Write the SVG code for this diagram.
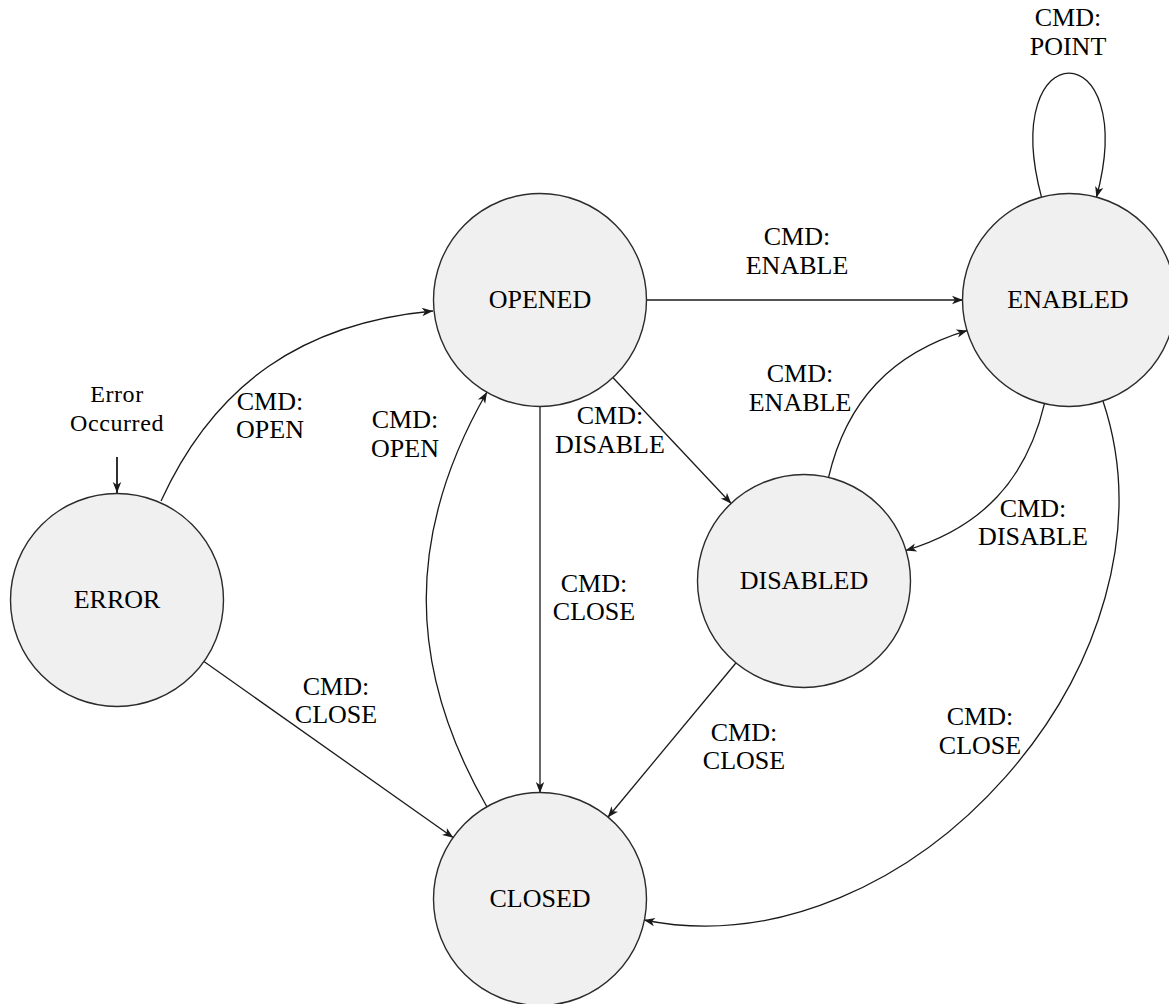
<svg xmlns="http://www.w3.org/2000/svg" width="1169" height="1004" viewBox="0 0 1169 1004">
  <style>
    .state { fill: #f0f0f0; stroke: #2b2b2b; stroke-width: 1.4; }
    .name, .lbl { font-family: "Liberation Serif", "DejaVu Serif", "Times New Roman", serif; font-size: 26px; fill: #000; text-anchor: middle; }
    .note { font-family: "Liberation Serif", "DejaVu Serif", "Times New Roman", serif; font-size: 24px; fill: #000; text-anchor: middle; letter-spacing: 0.6px; }
    .edge { fill: none; stroke: #1a1a1a; stroke-width: 1.3; marker-end: url(#arr); }
    .start { stroke-width: 1.8; }
  </style>
  <defs>
    <marker id="arr" viewBox="-12 -6 13 12" refX="0" refY="0" markerWidth="13" markerHeight="12" markerUnits="userSpaceOnUse" orient="auto">
      <path d="M0,0 L-11,-4.2 L-8,0 L-11,4.2 Z" fill="#1a1a1a"/>
    </marker>
  </defs>

  <rect width="1169" height="1004" fill="#ffffff"/>

  <!-- transitions -->
  <g id="connectors">
    <!-- initial arrow into ERROR -->
    <path class="edge start" d="M117,457 L117,493"/>
    <!-- ERROR -> OPENED -->
    <path class="edge" d="M161,501 C215,383 303.5,323 433,311"/>
    <!-- ERROR -> CLOSED -->
    <path class="edge" d="M203.6,661.2 L453.4,837.8"/>
    <!-- OPENED -> ENABLED -->
    <path class="edge" d="M646,300 L963,300"/>
    <!-- OPENED -> CLOSED -->
    <path class="edge" d="M540,406 L540,793"/>
    <!-- CLOSED -> OPENED -->
    <path class="edge" d="M487,807 C406,666 406,533 487,392"/>
    <!-- OPENED -> DISABLED -->
    <path class="edge" d="M612.6,377.3 L731.4,503.7"/>
    <!-- DISABLED -> ENABLED -->
    <path class="edge" d="M828.4,477.8 C846.6,400.6 891.5,353.2 967.5,330.4"/>
    <!-- ENABLED -> DISABLED -->
    <path class="edge" d="M1044.6,403.2 C1026.4,480.4 981.5,527.8 905.5,550.6"/>
    <!-- DISABLED -> CLOSED -->
    <path class="edge" d="M736.3,662.5 L607.7,817.5"/>
    <!-- ENABLED -> CLOSED -->
    <path class="edge" d="M1102.8,400.5 C1189.4,657.8 909.9,973.7 643.9,920"/>
    <!-- ENABLED self loop -->
    <path class="edge" d="M1041.6,197.6 C997,31.5 1141,31.5 1096.4,197.6"/>
  </g>

  <!-- transition labels -->
  <g id="labels">
    <text class="note" x="117" y="402">Error</text>
    <text class="note" x="117" y="431">Occurred</text>

    <text class="lbl" x="270" y="410">CMD:</text>
    <text class="lbl" x="270" y="438">OPEN</text>

    <text class="lbl" x="405" y="428">CMD:</text>
    <text class="lbl" x="405" y="457">OPEN</text>

    <text class="lbl" x="797" y="245">CMD:</text>
    <text class="lbl" x="797" y="274">ENABLE</text>

    <text class="lbl" x="610" y="424">CMD:</text>
    <text class="lbl" x="610" y="453">DISABLE</text>

    <text class="lbl" x="800" y="382">CMD:</text>
    <text class="lbl" x="800" y="411">ENABLE</text>

    <text class="lbl" x="1033" y="517">CMD:</text>
    <text class="lbl" x="1033" y="545">DISABLE</text>

    <text class="lbl" x="594" y="592">CMD:</text>
    <text class="lbl" x="594" y="620">CLOSE</text>

    <text class="lbl" x="336" y="695">CMD:</text>
    <text class="lbl" x="336" y="723">CLOSE</text>

    <text class="lbl" x="744" y="741">CMD:</text>
    <text class="lbl" x="744" y="769">CLOSE</text>

    <text class="lbl" x="980" y="725">CMD:</text>
    <text class="lbl" x="980" y="754">CLOSE</text>

    <text class="lbl" x="1068" y="26">CMD:</text>
    <text class="lbl" x="1068" y="55">POINT</text>
  </g>

  <!-- states -->
  <g id="node-opened">
    <circle class="state" cx="540" cy="300" r="106.5"/>
    <text class="name" x="540" y="308">OPENED</text>
  </g>
  <g id="node-enabled">
    <circle class="state" cx="1069" cy="300" r="106.5"/>
    <text class="name" x="1068" y="308">ENABLED</text>
  </g>
  <g id="node-error">
    <circle class="state" cx="117" cy="600" r="106.5"/>
    <text class="name" x="117" y="608">ERROR</text>
  </g>
  <g id="node-disabled">
    <circle class="state" cx="804" cy="581" r="106.5"/>
    <text class="name" x="804" y="589">DISABLED</text>
  </g>
  <g id="node-closed">
    <circle class="state" cx="540" cy="899" r="106.5"/>
    <text class="name" x="540" y="907">CLOSED</text>
  </g>
</svg>
